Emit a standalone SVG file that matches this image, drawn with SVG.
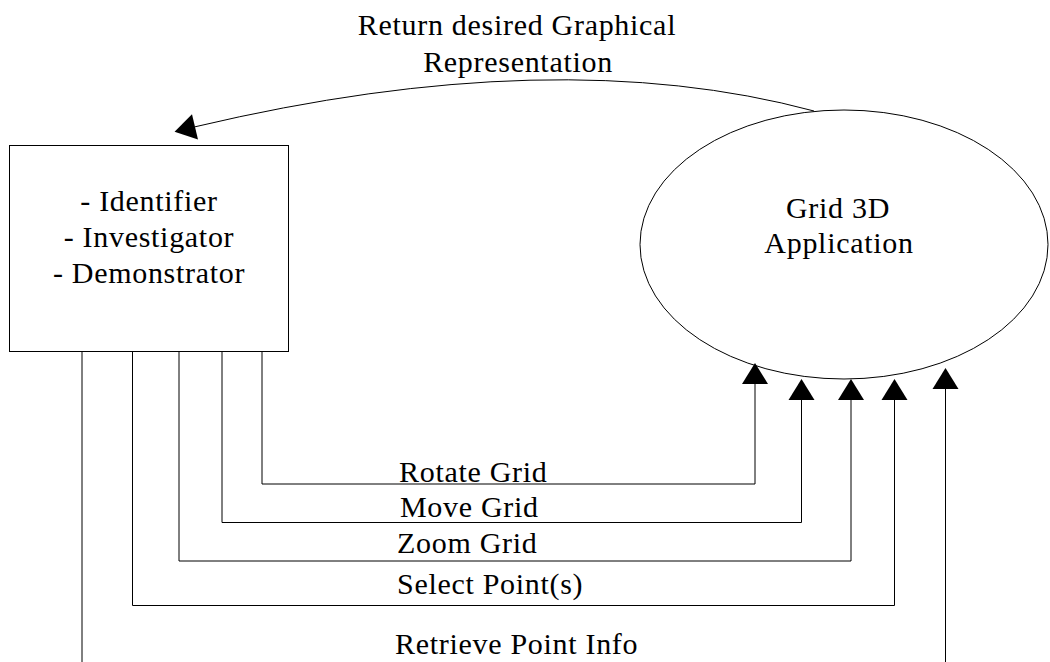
<svg xmlns="http://www.w3.org/2000/svg" width="1050" height="662" viewBox="0 0 1050 662">
  <defs>
    <style>
      .lbl { font-family: 'Liberation Serif', 'DejaVu Serif', serif; font-size: 30px; letter-spacing: 0.7px; fill: #000; }
      .mid { text-anchor: middle; }
      .shape { fill: #fff; stroke: #000; stroke-width: 1; }
      .wire { fill: none; stroke: #000; stroke-width: 1; }
    </style>
    <marker id="head" markerUnits="userSpaceOnUse" markerWidth="21" markerHeight="26" refX="0" refY="13" orient="auto" overflow="visible">
      <path d="M0,0 L21,13 L0,26 Z" fill="#000"/>
    </marker>
  </defs>

  <rect width="1050" height="662" fill="#fff"/>

  <!-- user roles box -->
  <g id="users">
    <rect class="shape" x="9.5" y="145.5" width="279" height="206"/>
    <text class="lbl mid" x="149" y="211">- Identifier</text>
    <text class="lbl mid" x="149" y="247">- Investigator</text>
    <text class="lbl mid" x="149" y="283">- Demonstrator</text>
  </g>

  <!-- application ellipse -->
  <g id="app">
    <ellipse class="shape" cx="844" cy="244.5" rx="204" ry="134.5"/>
    <text class="lbl mid" x="838" y="218">Grid 3D</text>
    <text class="lbl mid" x="839" y="253">Application</text>
  </g>

  <!-- commands and the returned view -->
  <g id="connectors">
    <path class="wire" d="M814,111 Q555.5,41.5 195,126.8" marker-end="url(#head)"/>
    <polyline class="wire" points="262,352 262,484 755,484 755,384" marker-end="url(#head)"/>
    <polyline class="wire" points="222,352 222,522.5 801.5,522.5 801.5,400" marker-end="url(#head)"/>
    <polyline class="wire" points="179,352 179,561 851,561 851,400" marker-end="url(#head)"/>
    <polyline class="wire" points="132.5,352 132.5,605.5 894.5,605.5 894.5,400" marker-end="url(#head)"/>
    <line class="wire" x1="82" y1="352" x2="82" y2="662"/>
    <line class="wire" x1="945.5" y1="662" x2="945.5" y2="389" marker-end="url(#head)"/>
  </g>

  <g id="labels">
    <text class="lbl mid" x="517" y="35">Return desired Graphical</text>
    <text class="lbl mid" x="518" y="72">Representation</text>
    <text class="lbl" x="399" y="482">Rotate Grid</text>
    <text class="lbl" x="400" y="517">Move Grid</text>
    <text class="lbl" x="397" y="553">Zoom Grid</text>
    <text class="lbl" x="397" y="594">Select Point(s)</text>
    <text class="lbl" x="395" y="654">Retrieve Point Info</text>
  </g>
</svg>
